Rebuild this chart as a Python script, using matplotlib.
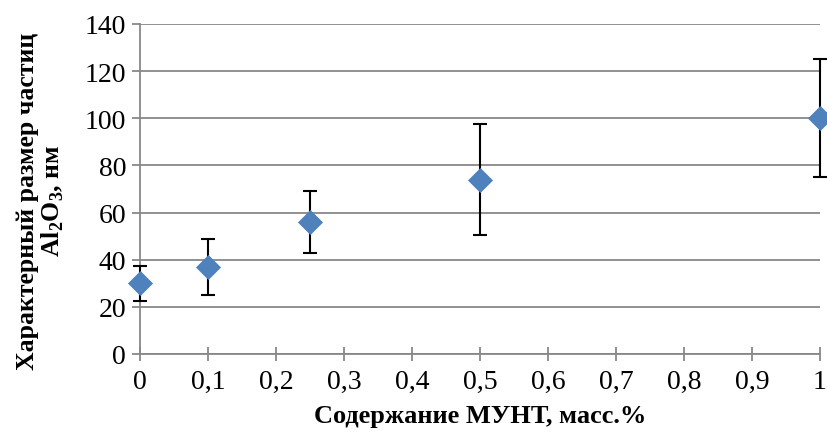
import matplotlib
matplotlib.use("Agg")
import matplotlib.pyplot as plt
from matplotlib.ticker import FuncFormatter

plt.rcParams['font.family'] = ['Liberation Serif', 'DejaVu Serif']
plt.rcParams['mathtext.fontset'] = 'custom'
plt.rcParams['mathtext.rm'] = 'Liberation Serif'
plt.rcParams['mathtext.bf'] = 'Liberation Serif:bold'

# данные
content = [0, 0.1, 0.25, 0.5, 1]
size_nm = [30, 37, 56, 74, 100]
size_err = [7.5, 12, 13, 23.5, 25]

x_ticks = [0, 0.1, 0.2, 0.3, 0.4, 0.5, 0.6, 0.7, 0.8, 0.9, 1]
y_ticks = [0, 20, 40, 60, 80, 100, 120, 140]

fig = plt.figure(figsize=(8.27, 4.39), dpi=100)
ax = fig.add_axes([140/827, 84/439, 680/827, 330/439])

ax.errorbar(content, size_nm, yerr=size_err, fmt='none', ecolor='black',
            elinewidth=1.5, capsize=5, capthick=1.5, zorder=3, clip_on=False)
ax.scatter(content, size_nm, marker='D', s=150, color='#4F81BD',
           edgecolors='#4A7EBB', linewidths=0.5, zorder=4, clip_on=False)

ax.set_xlim(0, 1)
ax.set_ylim(0, 140)
ax.set_xticks(x_ticks)
ax.set_yticks(y_ticks)
ax.xaxis.set_major_formatter(FuncFormatter(lambda v, p: ('%g' % v).replace('.', ',')))

ax.grid(axis='y', color='#888888', linewidth=1.3)
ax.set_axisbelow(True)
for s in ['top', 'right']:
    ax.spines[s].set_visible(False)
for s in ['left', 'bottom']:
    ax.spines[s].set_color('#888888')
    ax.spines[s].set_linewidth(1.3)

ax.tick_params(axis='x', direction='inout', length=10, width=1.3, color='#888888',
               labelsize=20, pad=6)
ax.tick_params(axis='y', direction='out', length=6, width=1.3, color='#888888',
               labelsize=20, pad=4)

ax.set_xlabel('Содержание МУНТ, масс.%', fontsize=19, fontweight='bold')
ax.xaxis.set_label_coords(340/680, -(405-355)/330)
ax.set_ylabel('Характерный размер частиц\nAl$_\\mathbf{2}$O$_\\mathbf{3}$, нм',
              fontsize=18.5, fontweight='bold', linespacing=1.05)
ax.yaxis.set_label_coords(-(140-66)/680, (355-201)/330)

fig.savefig('out.png', dpi=100)
